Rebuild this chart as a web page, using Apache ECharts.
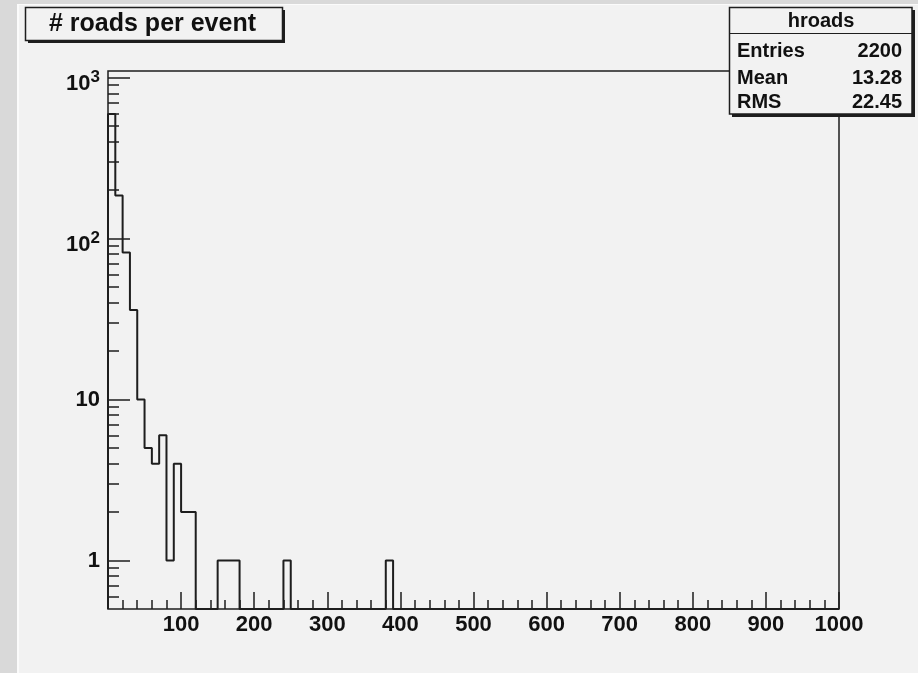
<!DOCTYPE html>
<html><head><meta charset="utf-8">
<script src="https://cdn.jsdelivr.net/npm/echarts@6/dist/echarts.min.js"></script>
<style>html,body{margin:0;padding:0;background:#f2f2f2}#c{width:918px;height:673px}</style>
</head><body><div id="c"></div>
<script>
// ---- data ----
const chartTitle = '# roads per event';
const histName = 'hroads';
const statsLabels = ['Entries', 'Mean', 'RMS'];
const statsValues = ['2200', '13.28', '22.45'];
const xMin = 0, xMax = 1000, binWidth = 10;
const counts = [
  595, 185, 82, 36, 10, 5, 4, 6, 1, 4,
  2, 2, 0, 0, 0, 1, 1, 1, 0, 0,
  0, 0, 0, 0, 1, 0, 0, 0, 0, 0,
  0, 0, 0, 0, 0, 0, 0, 0, 1, 0,
  0, 0, 0, 0, 0, 0, 0, 0, 0, 0,
  0, 0, 0, 0, 0, 0, 0, 0, 0, 0,
  0, 0, 0, 0, 0, 0, 0, 0, 0, 0,
  0, 0, 0, 0, 0, 0, 0, 0, 0, 0,
  0, 0, 0, 0, 0, 0, 0, 0, 0, 0,
  0, 0, 0, 0, 0, 0, 0, 0, 0, 0
];
const yMin = 0.5, yMax = 1100;
const yMajor = [1, 10, 100, 1000];
const yMajorLabels = ['1', '10', '10^2', '10^3'];
const yMinor = [0.6, 0.7, 0.8, 0.9, 2, 3, 4, 5, 6, 7, 8, 9, 20, 30, 40, 50, 60, 70, 80, 90,
                200, 300, 400, 500, 600, 700, 800, 900];
const xMajorStep = 100, xMinorSplit = 5;

// ---- build ----
const FONT = "'Liberation Sans', Arial, sans-serif";
const INK = '#1e1e1e';
const BG = '#f2f2f2';

const pts = [[xMin, yMin]];
counts.forEach((c, i) => {
  const v = c > 0 ? c : yMin;
  pts.push([xMin + i * binWidth, v], [xMin + (i + 1) * binWidth, v]);
});
pts.push([xMax, yMin]);

const lg = v => Math.log10(v);
const lMin = lg(yMin), lMax = lg(yMax);

function yLabel(v) {
  const idx = yMajor.findIndex(m => Math.abs(lg(m) - v) < 1e-6);
  if (idx < 0) return '';
  const lab = yMajorLabels[idx];
  if (lab.indexOf('^') >= 0) {
    const p = lab.split('^');
    return '{b|' + p[0] + '}{s|' + p[1] + '}';
  }
  return '{n|' + lab + '}';
}

const chart = echarts.init(document.getElementById('c'), null, {renderer: 'canvas'});
const tickStyle = {color: INK, width: 1.5};

chart.setOption({
  animation: false,
  backgroundColor: BG,
  grid: {left: 108, top: 71, right: 79, bottom: 64, show: true, borderColor: INK, borderWidth: 1.5, backgroundColor: 'transparent'},
  xAxis: {
    type: 'value', min: xMin, max: xMax, interval: xMajorStep, position: 'bottom',
    axisLine: {show: false, onZero: false},
    axisTick: {show: true, inside: true, length: 17, lineStyle: tickStyle},
    minorTick: {show: true, splitNumber: xMinorSplit, length: 9, lineStyle: tickStyle},
    axisLabel: {margin: 5, color: '#111', fontFamily: FONT, fontWeight: 'bold', fontSize: 22,
      formatter: v => (v === xMin ? '' : String(v))},
    splitLine: {show: false}
  },
  yAxis: [
    {type: 'log', logBase: 10, min: yMin, max: yMax,
      axisLine: {show: false, onZero: false}, axisTick: {show: false}, axisLabel: {show: false}, splitLine: {show: false}},
    {type: 'value', min: lMin, max: lMax, position: 'left',
      axisLine: {show: false, onZero: false}, splitLine: {show: false},
      axisTick: {show: true, inside: true, length: 22, lineStyle: tickStyle, customValues: yMajor.map(lg)},
      axisLabel: {show: true, margin: 8, customValues: yMajor.map(lg), formatter: yLabel,
        rich: {
          n: {fontFamily: FONT, fontWeight: 'bold', fontSize: 22, color: '#111'},
          b: {fontFamily: FONT, fontWeight: 'bold', fontSize: 22, color: '#111', verticalAlign: 'bottom'},
          s: {fontFamily: FONT, fontWeight: 'bold', fontSize: 17, color: '#111', verticalAlign: 'bottom', padding: [9, 0, 9, 0]}
        }}},
    {type: 'value', min: lMin, max: lMax, position: 'left',
      axisLine: {show: false, onZero: false}, splitLine: {show: false}, axisLabel: {show: false},
      axisTick: {show: true, inside: true, length: 11, lineStyle: tickStyle, customValues: yMinor.map(lg)}}
  ],
  series: [{
    type: 'line', xAxisIndex: 0, yAxisIndex: 0, data: pts,
    showSymbol: false, symbol: 'none',
    lineStyle: {color: INK, width: 2}, clip: true, z: 3
  }],
  graphic: [
    {type: 'rect', z: 100, shape: {x: 0, y: 0, width: 17, height: 673}, style: {fill: '#d9d9d9'}},
    {type: 'rect', z: 100, shape: {x: 0, y: 0, width: 918, height: 4}, style: {fill: '#d9d9d9'}},
    {type: 'rect', z: 100, shape: {x: 17, y: 4, width: 2, height: 669}, style: {fill: '#fbfbfb'}},
    {type: 'rect', z: 100, shape: {x: 17, y: 4, width: 901, height: 1}, style: {fill: '#fbfbfb'}},
    // title box
    {type: 'rect', z: 100, shape: {x: 28, y: 10, width: 257, height: 33}, style: {fill: INK}},
    {type: 'rect', z: 101, shape: {x: 25.5, y: 7.5, width: 257, height: 33}, style: {fill: BG, stroke: INK, lineWidth: 1.5}},
    {type: 'text', z: 102, style: {text: chartTitle, x: 152.5, y: 24.5, align: 'center', verticalAlign: 'middle',
      font: 'bold 25px ' + FONT, fill: '#111'}},
    // stats box
    {type: 'rect', z: 100, shape: {x: 732, y: 10, width: 183, height: 107}, style: {fill: INK}},
    {type: 'rect', z: 101, shape: {x: 729.5, y: 7.5, width: 182.5, height: 106.5}, style: {fill: BG, stroke: INK, lineWidth: 1.5}},
    {type: 'line', z: 102, shape: {x1: 729.5, y1: 33.5, x2: 912, y2: 33.5}, style: {stroke: INK, lineWidth: 1.2}},
    {type: 'text', z: 102, style: {text: histName, x: 821, y: 21.5, align: 'center', verticalAlign: 'middle',
      font: 'bold 20px ' + FONT, fill: '#111'}},
    ...statsLabels.map((t, i) => ({type: 'text', z: 102, style: {text: t, x: 737, y: [51, 78, 102][i],
      align: 'left', verticalAlign: 'middle', font: 'bold 20px ' + FONT, fill: '#111'}})),
    ...statsValues.map((t, i) => ({type: 'text', z: 102, style: {text: t, x: 902, y: [51, 78, 102][i],
      align: 'right', verticalAlign: 'middle', font: 'bold 20px ' + FONT, fill: '#111'}}))
  ]
});
</script></body></html>
